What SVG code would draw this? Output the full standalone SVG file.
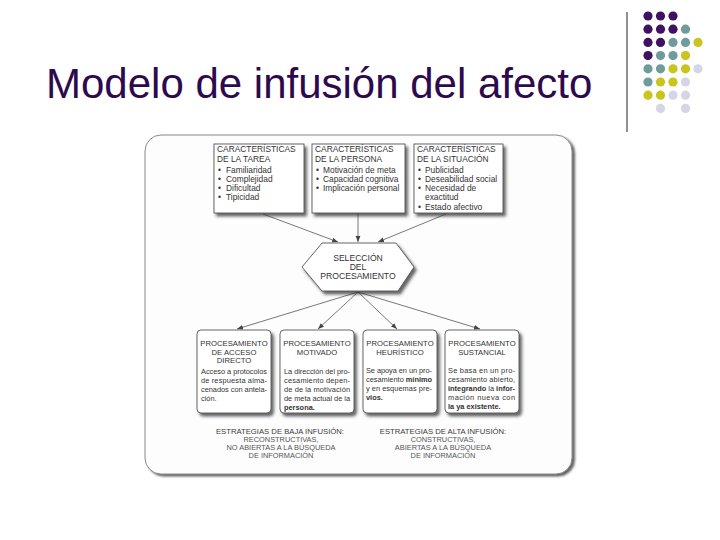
<svg xmlns="http://www.w3.org/2000/svg" width="720" height="540" viewBox="0 0 720 540">
<style>
  .title{font-family:"Liberation Sans",Arial,sans-serif;font-size:42px;fill:#2d0a4e}
  .t{font-family:"Liberation Sans",Arial,sans-serif;fill:#333}
  .hd{font-size:8.4px}
  .bl{font-size:8.4px}
  .hx{font-size:8.6px;text-anchor:middle}
  .ph{font-size:7.7px;text-anchor:middle}
  .pb{font-size:7.4px}
  .sh{font-size:7.7px;text-anchor:middle;fill:#3a3a3a}
  .ss{font-size:7.4px;text-anchor:middle;fill:#555}
  .box{fill:#fff;stroke:#555;stroke-width:0.9}
  .conn{stroke:#555;stroke-width:0.8;fill:none}
  .p{fill:#3f1160}.g{fill:#6f9b9c}.y{fill:#c9c41e}.v{fill:#d5d5e8}
</style>
<defs>
  <filter id="sh" x="-20%" y="-20%" width="150%" height="150%">
    <feDropShadow dx="2.5" dy="3" stdDeviation="1.6" flood-color="#333" flood-opacity="0.75"/>
  </filter>
  <filter id="fsh" x="-5%" y="-5%" width="110%" height="110%">
    <feDropShadow dx="2.5" dy="2" stdDeviation="1" flood-color="#444" flood-opacity="0.85"/>
  </filter>
  <marker id="arr" viewBox="0 0 10 10" refX="10" refY="5" markerWidth="6" markerHeight="6" orient="auto" markerUnits="userSpaceOnUse">
    <path d="M0,1 L10,5 L0,9 Z" fill="#444"/>
  </marker>
</defs>

<text class="title" x="46" y="98">Modelo de infusión del afecto</text>

<g id="decoration">
  <line x1="627" y1="12" x2="627" y2="132" stroke="#222" stroke-width="1"/>
  <circle class="p" cx="648" cy="16" r="4.6"/><circle class="p" cx="660.5" cy="16" r="4.6"/><circle class="p" cx="673" cy="16" r="4.6"/>
  <circle class="p" cx="648" cy="29.2" r="4.6"/><circle class="p" cx="660.5" cy="29.2" r="4.6"/><circle class="p" cx="673" cy="29.2" r="4.6"/><circle class="g" cx="685.5" cy="29.2" r="4.6"/>
  <circle class="p" cx="648" cy="42.4" r="4.6"/><circle class="p" cx="660.5" cy="42.4" r="4.6"/><circle class="g" cx="673" cy="42.4" r="4.6"/><circle class="g" cx="685.5" cy="42.4" r="4.6"/><circle class="y" cx="698" cy="42.4" r="4.6"/>
  <circle class="p" cx="648" cy="55.6" r="4.6"/><circle class="g" cx="660.5" cy="55.6" r="4.6"/><circle class="g" cx="673" cy="55.6" r="4.6"/><circle class="y" cx="685.5" cy="55.6" r="4.6"/>
  <circle class="g" cx="648" cy="68.8" r="4.6"/><circle class="g" cx="660.5" cy="68.8" r="4.6"/><circle class="y" cx="673" cy="68.8" r="4.6"/><circle class="y" cx="685.5" cy="68.8" r="4.6"/><circle class="v" cx="698" cy="68.8" r="4.6"/>
  <circle class="g" cx="648" cy="82" r="4.6"/><circle class="y" cx="660.5" cy="82" r="4.6"/><circle class="y" cx="673" cy="82" r="4.6"/><circle class="v" cx="685.5" cy="82" r="4.6"/>
  <circle class="y" cx="648" cy="95.2" r="4.6"/><circle class="y" cx="660.5" cy="95.2" r="4.6"/><circle class="v" cx="673" cy="95.2" r="4.6"/><circle class="v" cx="685.5" cy="95.2" r="4.6"/>
  <circle class="v" cx="660.5" cy="108.4" r="4.6"/><circle class="v" cx="685.5" cy="108.4" r="4.6"/>
</g>

<g id="frame">
  <rect x="145" y="135" width="427" height="339" rx="16" ry="16" fill="#fdfdfd" stroke="#8a8a8a" stroke-width="1" filter="url(#fsh)"/>
</g>

<g id="connectors">
  <line class="conn" x1="263" y1="214" x2="338" y2="242" marker-end="url(#arr)"/>
  <line class="conn" x1="358" y1="213" x2="358" y2="242" marker-end="url(#arr)"/>
  <line class="conn" x1="446" y1="214" x2="378" y2="242" marker-end="url(#arr)"/>
  <line class="conn" x1="358" y1="292" x2="237" y2="329" marker-end="url(#arr)"/>
  <line class="conn" x1="358" y1="292" x2="318" y2="329" marker-end="url(#arr)"/>
  <line class="conn" x1="358" y1="292" x2="397" y2="329" marker-end="url(#arr)"/>
  <line class="conn" x1="358" y1="292" x2="480" y2="329" marker-end="url(#arr)"/>
</g>

<g id="tarea">
  <rect class="box" x="214" y="144" width="90" height="69" filter="url(#sh)"/>
  <text class="t hd" x="217" y="152">CARACTERÍSTICAS</text>
  <text class="t hd" x="217" y="162">DE LA TAREA</text>
  <text class="t bl" x="218" y="173">•<tspan x="226">Familiaridad</tspan></text>
  <text class="t bl" x="218" y="181.5">•<tspan x="226">Complejidad</tspan></text>
  <text class="t bl" x="218" y="190.5">•<tspan x="226">Dificultad</tspan></text>
  <text class="t bl" x="218" y="199.5">•<tspan x="226">Tipicidad</tspan></text>
</g>

<g id="persona">
  <rect class="box" x="312" y="144" width="93" height="69" filter="url(#sh)"/>
  <text class="t hd" x="315" y="152">CARACTERÍSTICAS</text>
  <text class="t hd" x="315" y="162">DE LA PERSONA</text>
  <text class="t bl" x="316" y="173">•<tspan x="323">Motivación de meta</tspan></text>
  <text class="t bl" x="316" y="181.5">•<tspan x="323">Capacidad cognitiva</tspan></text>
  <text class="t bl" x="316" y="190.5">•<tspan x="323">Implicación personal</tspan></text>
</g>

<g id="situacion">
  <rect class="box" x="414" y="144" width="89" height="69" filter="url(#sh)"/>
  <text class="t hd" x="417" y="152">CARACTERÍSTICAS</text>
  <text class="t hd" x="417" y="162">DE LA SITUACIÓN</text>
  <text class="t bl" x="418" y="173">•<tspan x="425">Publicidad</tspan></text>
  <text class="t bl" x="418" y="182">•<tspan x="425">Deseabilidad social</tspan></text>
  <text class="t bl" x="418" y="191">•<tspan x="425">Necesidad de</tspan></text>
  <text class="t bl" x="425" y="200">exactitud</text>
  <text class="t bl" x="418" y="209.5">•<tspan x="425">Estado afectivo</tspan></text>
</g>

<g id="seleccion">
  <polygon points="322,243 396,243 414,267 398,291 322,291 302,267" fill="#fff" stroke="#555" stroke-width="0.9" filter="url(#sh)"/>
  <text class="t hx" x="358" y="261">SELECCIÓN</text>
  <text class="t hx" x="358" y="270">DEL</text>
  <text class="t hx" x="358" y="279">PROCESAMIENTO</text>
</g>

<g id="acceso-directo">
  <rect class="box" x="197" y="330" width="74" height="83" rx="4" filter="url(#sh)"/>
  <text class="t ph" x="234" y="346">PROCESAMIENTO</text>
  <text class="t ph" x="234" y="354.5">DE ACCESO</text>
  <text class="t ph" x="234" y="363">DIRECTO</text>
  <text class="t pb" x="201" y="374" textLength="66" lengthAdjust="spacing">Acceso a protocolos</text>
  <text class="t pb" x="201" y="383" textLength="66" lengthAdjust="spacing">de respuesta alma-</text>
  <text class="t pb" x="201" y="392" textLength="66" lengthAdjust="spacing">cenados con antela-</text>
  <text class="t pb" x="201" y="401">ción.</text>
</g>

<g id="motivado">
  <rect class="box" x="280" y="330" width="74" height="83" rx="4" filter="url(#sh)"/>
  <text class="t ph" x="317" y="346">PROCESAMIENTO</text>
  <text class="t ph" x="317" y="354.5">MOTIVADO</text>
  <text class="t pb" x="284" y="374" textLength="66" lengthAdjust="spacing">La dirección del pro-</text>
  <text class="t pb" x="284" y="383" textLength="66" lengthAdjust="spacing">cesamiento depen-</text>
  <text class="t pb" x="284" y="392" textLength="66" lengthAdjust="spacing">de de la motivación</text>
  <text class="t pb" x="284" y="401" textLength="66" lengthAdjust="spacing">de meta actual de la</text>
  <text class="t pb" x="284" y="410" font-weight="bold">persona.</text>
</g>

<g id="heuristico">
  <rect class="box" x="363" y="330" width="74" height="83" rx="4" filter="url(#sh)"/>
  <text class="t ph" x="400" y="346">PROCESAMIENTO</text>
  <text class="t ph" x="400" y="354.5">HEURÍSTICO</text>
  <text class="t pb" x="366" y="373" textLength="66" lengthAdjust="spacing">Se apoya en un pro-</text>
  <text class="t pb" x="366" y="382" textLength="66" lengthAdjust="spacing">cesamiento <tspan font-weight="bold">mínimo</tspan></text>
  <text class="t pb" x="366" y="391" textLength="66" lengthAdjust="spacing">y en esquemas pre-</text>
  <text class="t pb" x="366" y="400" font-weight="bold">vios.</text>
</g>

<g id="sustancial">
  <rect class="box" x="445" y="330" width="74" height="83" rx="4" filter="url(#sh)"/>
  <text class="t ph" x="482" y="346">PROCESAMIENTO</text>
  <text class="t ph" x="482" y="354.5">SUSTANCIAL</text>
  <text class="t pb" x="448" y="373" textLength="67" lengthAdjust="spacing">Se basa en un pro-</text>
  <text class="t pb" x="448" y="382" textLength="67" lengthAdjust="spacing">cesamiento abierto,</text>
  <text class="t pb" x="448" y="391" textLength="67" lengthAdjust="spacing"><tspan font-weight="bold">integrando</tspan> la <tspan font-weight="bold">infor-</tspan></text>
  <text class="t pb" x="448" y="400" textLength="67" lengthAdjust="spacing">mación nueva con</text>
  <text class="t pb" x="448" y="409" font-weight="bold">la ya existente.</text>
</g>

<g id="baja-infusion">
  <text class="t sh" x="280" y="434">ESTRATEGIAS DE BAJA INFUSIÓN:</text>
  <text class="t ss" x="281" y="442">RECONSTRUCTIVAS,</text>
  <text class="t ss" x="281" y="450">NO ABIERTAS A LA BÚSQUEDA</text>
  <text class="t ss" x="281" y="458">DE INFORMACIÓN</text>
</g>

<g id="alta-infusion">
  <text class="t sh" x="443" y="434">ESTRATEGIAS DE ALTA INFUSIÓN:</text>
  <text class="t ss" x="443" y="442">CONSTRUCTIVAS,</text>
  <text class="t ss" x="443" y="450">ABIERTAS A LA BÚSQUEDA</text>
  <text class="t ss" x="443" y="458">DE INFORMACIÓN</text>
</g>
</svg>
